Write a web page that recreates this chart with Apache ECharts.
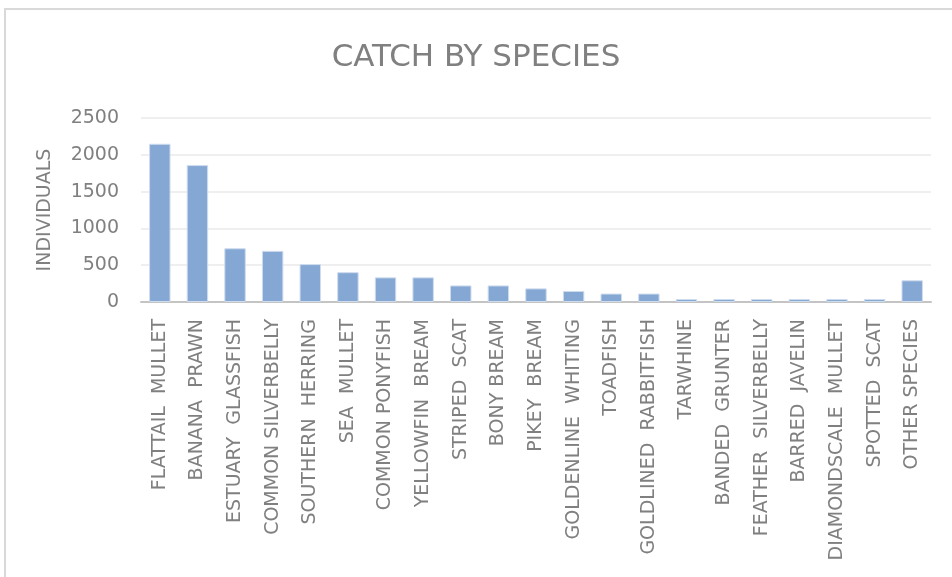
<!DOCTYPE html>
<html>
<head>
<meta charset="utf-8">
<script src="https://cdn.jsdelivr.net/npm/echarts@6/dist/echarts.min.js"></script>
<style>
  html, body { margin: 0; padding: 0; background: #fff; overflow: hidden; }
  #frame { position: absolute; left: 4px; top: 8px; width: 1000px; height: 640px;
           border: 2px solid #d9d9d9; box-sizing: border-box; }
  #chart { position: absolute; left: 0; top: 0; width: 952px; height: 577px; }
</style>
</head>
<body>
<div id="frame"></div>
<div id="chart"></div>
<script>
// Species caught, in the order shown along the x axis
const species = [
  'FLATTAIL  MULLET', 'BANANA  PRAWN', 'ESTUARY  GLASSFISH', 'COMMON SILVERBELLY',
  'SOUTHERN  HERRING', 'SEA  MULLET', 'COMMON PONYFISH', 'YELLOWFIN  BREAM',
  'STRIPED  SCAT', 'BONY BREAM', 'PIKEY  BREAM', 'GOLDENLINE  WHITING',
  'TOADFISH', 'GOLDLINED  RABBITFISH', 'TARWHINE', 'BANDED  GRUNTER',
  'FEATHER  SILVERBELLY', 'BARRED  JAVELIN', 'DIAMONDSCALE  MULLET',
  'SPOTTED  SCAT', 'OTHER SPECIES'
];

// Number of individuals caught per species
const individuals = [
  2150, 1860, 730, 695, 515, 405, 335, 335, 225, 225, 185,
  150, 115, 115, 40, 40, 40, 40, 40, 40, 295
];

// Value axis ticks
const yTicks = [0, 500, 1000, 1500, 2000, 2500];

const FONT = '"DejaVu Sans", "Open Sans", sans-serif';
const GREY = '#808080';
const chart = echarts.init(document.getElementById('chart'), null, { renderer: 'canvas' });

chart.setOption({
  backgroundColor: 'transparent',
  animation: false,
  title: {
    text: 'CATCH BY SPECIES',
    left: 'center',
    top: 37,
    textStyle: { color: GREY, fontFamily: FONT, fontSize: 31, fontWeight: 'normal' }
  },
  grid: { left: 141, right: 21, top: 118, bottom: 275, containLabel: false },
  xAxis: {
    type: 'category',
    data: species,
    axisLine: { lineStyle: { color: '#c4c4c4', width: 2 } },
    axisTick: { show: false },
    axisLabel: {
      rotate: 90,
      interval: 0,
      margin: 17,
      color: GREY,
      fontFamily: FONT,
      fontSize: 19
    }
  },
  yAxis: {
    type: 'value',
    min: yTicks[0],
    max: yTicks[yTicks.length - 1],
    interval: yTicks[1] - yTicks[0],
    name: 'INDIVIDUALS',
    nameLocation: 'middle',
    nameRotate: 90,
    nameGap: 86,
    nameTextStyle: { color: GREY, fontFamily: FONT, fontSize: 19 },
    axisLine: { show: false },
    axisTick: { show: false },
    axisLabel: {
      color: GREY, fontFamily: FONT, fontSize: 19, margin: 22,
      formatter: v => String(v)
    },
    splitLine: { lineStyle: { color: '#efefef', width: 2 } }
  },
  series: [{
    type: 'bar',
    data: individuals,
    barWidth: '57%',
    itemStyle: { color: '#84a7d3', borderColor: '#cfdcee', borderWidth: 1 }
  }]
});
</script>
</body>
</html>
